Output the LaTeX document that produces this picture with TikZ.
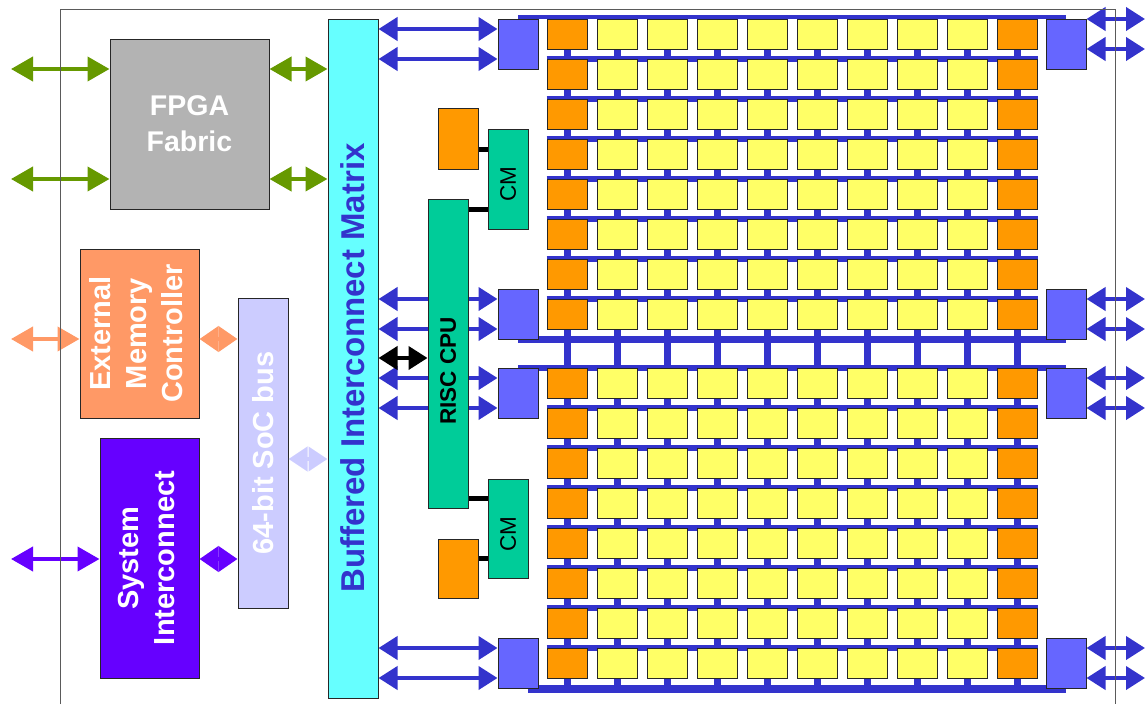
\documentclass[tikz,border=0pt]{standalone}
\usepackage{fontspec}
\setmainfont{Liberation Sans}
\usetikzlibrary{arrows.meta, positioning, backgrounds}
\definecolor{cfpga}{HTML}{B3B3B3}
\definecolor{cgreen}{HTML}{669900}
\definecolor{cmatrix}{HTML}{66FFFF}
\definecolor{cnavy}{HTML}{3333CC}
\definecolor{cemc}{HTML}{FF9966}
\definecolor{csoc}{HTML}{CCCCFF}
\definecolor{csys}{HTML}{6600FF}
\definecolor{ccpu}{HTML}{00CC99}
\definecolor{corange}{HTML}{FF9900}
\definecolor{cyellow}{HTML}{FFFF66}
\definecolor{cport}{HTML}{6666FF}
\definecolor{cframe}{HTML}{5A5A5A}

\begin{document}
\begin{tikzpicture}[
  x=1pt, y=-1pt,
  blk/.style={draw=black!85, line width=1pt, inner sep=0pt},
  wtxt/.style={text=white, font=\fontsize{29}{36}\selectfont\bfseries},
  tile/.style={blk, minimum width=40pt, minimum height=30pt},
  port/.style={blk, fill=cport, minimum width=40pt, minimum height=50pt},
  dbl/.style={line width=4pt, <->, >={Triangle[length=19pt, width=23pt]}},
  bigdbl/.style={line width=4pt, <->, >={Triangle[length=22pt, width=24pt]}},
  barr/.style={dbl, draw=cnavy},
  bus/.style={draw=cnavy, line width=#1},
  link/.style={line width=5pt, draw=black},
  ]
\useasboundingbox (0,0) rectangle (1145,704);
\coordinate (ledge) at (11,0);
\coordinate (redge) at (1145,0);

% blocks on the left
\node[blk, wtxt, fill=cfpga, align=center, minimum width=159pt, minimum height=170pt,
      font=\fontsize{28.5}{36}\selectfont\bfseries] (fpga) at (189.5,124) {FPGA\\Fabric};
\node[blk, wtxt, fill=cemc, minimum width=119pt, minimum height=169pt] (emc) at (139.5,333.5)
  {\rotatebox{90}{\begin{tabular}{@{}c@{}}External\\Memory\\Controller\end{tabular}}};
\node[blk, wtxt, fill=csys, minimum width=99pt, minimum height=240pt] (sysi) at (149.5,558)
  {\rotatebox{90}{\begin{tabular}{@{}c@{}}System\\Interconnect\end{tabular}}};
\node[blk, wtxt, fill=csoc, minimum width=50pt, minimum height=310pt] (soc) at (263,453)
  {\rotatebox{90}{64-bit SoC bus}};
\node[blk, fill=cmatrix, text=cnavy, font=\fontsize{33}{40}\selectfont\bfseries,
      minimum width=50pt, minimum height=679pt] (bim) at (353,358.5)
  {\rotatebox{90}{Buffered Interconnect Matrix\hspace*{19pt}}};

\draw[bigdbl, draw=cgreen] ([yshift=55pt]fpga.west -| ledge) -- ([yshift=55pt]fpga.west);
\draw[bigdbl, draw=cgreen] ([yshift=-55pt]fpga.west -| ledge) -- ([yshift=-55pt]fpga.west);
\draw[bigdbl, draw=cgreen] ([yshift=55pt]fpga.east) -- ([yshift=55pt]fpga.east -| bim.west);
\draw[bigdbl, draw=cgreen] ([yshift=-55pt]fpga.east) -- ([yshift=-55pt]fpga.east -| bim.west);
\draw[bigdbl, draw=cemc] ([yshift=-5.5pt]emc.west -| ledge) -- ([yshift=-5.5pt]emc.west);
\draw[dbl, draw=cemc, >={Triangle[length=19pt, width=25pt]}]
  ([yshift=-5.5pt]emc.east) -- ([yshift=-5.5pt]emc.east -| soc.west);
\draw[bigdbl, draw=csys] ([yshift=-1pt]sysi.west -| ledge) -- ([yshift=-1pt]sysi.west);
\draw[dbl, draw=csys, >={Triangle[length=19pt, width=25pt]}]
  ([yshift=-1pt]sysi.east) -- ([yshift=-1pt]sysi.east -| soc.west);
\draw[dbl, draw=csoc, >={Triangle[length=19pt, width=24pt]}]
  ([yshift=-6pt]soc.east) -- ([yshift=-6pt]soc.east -| bim.west);

% I/O ports and the tile array
\foreach \i/\y in {1/44, 2/314, 3/393, 4/663} {
  \node[port] (pl\i) at (518,\y) {};
  \node[port] (pr\i) at (1066,\y) {};
}
\foreach \r in {0,...,15} {
  \pgfmathtruncatemacro\ty{\r<8 ? 34+40*\r : 383+40*(\r-8)}
  \foreach \c in {0,...,9} {
    \ifnum\c=0 \def\tc{corange}\else\ifnum\c=9 \def\tc{corange}\else\def\tc{cyellow}\fi\fi
    \node[tile, fill=\tc] (t-\r-\c) at (567+50*\c,\ty) {};
  }
}
\begin{scope}[on background layer]
  \draw[bus=3.5pt] ([yshift=1.5pt]pl1.north) -- ([yshift=1.5pt]pr1.north);
  \draw[bus=7pt] (pl2.south) -- (pr2.south);
  \draw[bus=6pt] (pl3.north) -- (pr3.north);
  \draw[bus=8pt] ([xshift=10pt]pl4.south) -- (pr4.south);
  \foreach \r in {1,...,7,9,10,...,15}
    \draw[bus=6pt] (t-\r-0.north west) -- (t-\r-9.north east);
  \foreach \c in {0,...,9}
    \draw[bus=7pt] (t-0-\c.center) -- (t-15-\c.center |- pl4.south);
\end{scope}

\foreach \i in {1,...,4} {
  \draw[barr] ([yshift=15pt]pl\i.west -| bim.east) -- ([yshift=15pt]pl\i.west);
  \draw[barr] ([yshift=-15pt]pl\i.west -| bim.east) -- ([yshift=-15pt]pl\i.west);
}
\foreach \i/\a/\b in {1/25/-5, 2/15/-15, 3/15/-15, 4/15/-15} {
  \draw[barr] ([yshift=\a pt]pr\i.east) -- ([yshift=\a pt]pr\i.east -| redge);
  \draw[barr] ([yshift=\b pt]pr\i.east) -- ([yshift=\b pt]pr\i.east -| redge);
}

% processor and cache memories
\node[blk, fill=ccpu, minimum width=40pt, minimum height=309pt,
      font=\fontsize{22.5}{27}\selectfont\bfseries] (cpu) at (448,353.5)
  {\rotatebox{90}{RISC CPU\hspace*{35pt}}};
\node[blk, fill=ccpu, minimum width=40pt, minimum height=100pt,
      font=\fontsize{22.5}{27}\selectfont] (cm1) at (508,179) {\rotatebox{90}{CM\hspace*{11pt}}};
\node[blk, fill=ccpu, minimum width=40pt, minimum height=99pt,
      font=\fontsize{22.5}{27}\selectfont] (cm2) at (508,528.5) {\rotatebox{90}{CM\hspace*{11pt}}};
\node[blk, fill=corange, minimum width=40pt, minimum height=61pt] (om1) at (458,138.5) {};
\node[blk, fill=corange, minimum width=40pt, minimum height=59pt] (om2) at (458,568.5) {};
\draw[link] ([yshift=-10.5pt]om1.east) -- ([yshift=-10.5pt]om1.east -| cm1.west);
\draw[link] ([yshift=-30pt]cm1.west -| cpu.east) -- ([yshift=-30pt]cm1.west);
\draw[link] ([yshift=30.5pt]cm2.west -| cpu.east) -- ([yshift=30.5pt]cm2.west);
\draw[link] ([yshift=10.5pt]om2.east) -- ([yshift=10.5pt]om2.east -| cm2.west);
\draw[dbl, draw=black] ([yshift=-4.5pt]cpu.west -| bim.east) -- ([yshift=-4.5pt]cpu.west);

\draw[cframe, line width=1pt] (60,704) -- (60,9) -- (1115,9) -- (1115,704);
\end{tikzpicture}
\end{document}
